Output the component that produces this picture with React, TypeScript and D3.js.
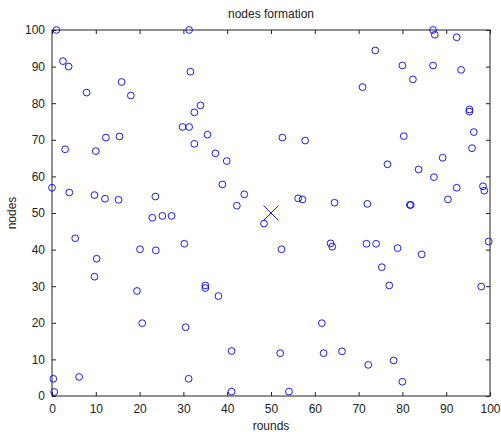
import { useEffect, useRef } from 'react';
import * as d3 from 'd3';

// node positions
const roundsX = [
  1, 31.3, 87, 87.4, 92.4, 2.5, 3.8, 73.8, 31.6, 80, 87, 93.4, 15.9, 82.4, 70.9, 7.9, 18, 33.9, 32.5, 95.3,
  95.3, 29.8, 31.3, 96.3, 35.5, 12.3, 15.4, 52.6, 80.3, 57.8, 32.5, 3, 10, 95.9, 37.3, 89.2, 39.9, 76.6, 83.7, 87.2,
  38.9, 0, 92.4, 98.4, 98.7, 3.95, 9.7, 43.9, 23.6, 12.1, 15.2, 56.2, 57.2, 90.4, 64.5, 72, 81.7, 81.9, 42.2, 22.9,
  25.2, 27.3, 48.4, 5.3, 30.2, 63.6, 64, 71.8, 74, 99.7, 52.4, 20.1, 23.7, 78.9, 84.4, 10.2, 75.3, 9.7, 35, 35,
  77, 98, 19.4, 38, 20.6, 61.6, 30.5, 41, 52.1, 62, 66.2, 78, 72.2, 6.2, 0.3, 31.2, 80, 0.5, 41, 54.1,
];
const nodesY = [
  100, 100, 100, 98.7, 98, 91.5, 90, 94.4, 88.6, 90.3, 90.3, 89.1, 85.8, 86.5, 84.4, 82.9, 82.1, 79.4, 77.5, 78.3,
  77.7, 73.5, 73.5, 72.1, 71.4, 70.6, 70.9, 70.6, 71, 69.8, 68.9, 67.4, 66.9, 67.7, 66.3, 65.1, 64.2, 63.3, 61.9, 59.8,
  57.8, 56.9, 56.9, 57.3, 56.1, 55.6, 54.9, 55.1, 54.5, 53.9, 53.6, 54, 53.7, 53.7, 52.8, 52.5, 52.2, 52.2, 52, 48.7,
  49.2, 49.2, 47.1, 43.1, 41.6, 41.7, 40.8, 41.6, 41.6, 42.2, 40.1, 40.1, 39.8, 40.4, 38.7, 37.5, 35.2, 32.6, 30.2, 29.5,
  30.2, 29.9, 28.7, 27.3, 19.9, 19.9, 18.8, 12.3, 11.7, 11.7, 12.2, 9.7, 8.5, 5.2, 4.7, 4.7, 3.9, 1.1, 1.2, 1.2,
];
const centre = [50, 50];
const xTicks = [0, 10, 20, 30, 40, 50, 60, 70, 80, 90, 100];
const yTicks = [0, 10, 20, 30, 40, 50, 60, 70, 80, 90, 100];

export default function App() {
  const svgRef = useRef<SVGSVGElement>(null);

  useEffect(() => {
    const width = 501;
    const height = 432;
    const margin = { top: 30, right: 11, bottom: 36, left: 52 };
    const innerWidth = width - margin.left - margin.right;
    const innerHeight = height - margin.top - margin.bottom;
    const font = 'Arial, "Liberation Sans", sans-serif';
    const ink = '#222';
    const blue = '#0000ff';

    const root = d3.select(svgRef.current);
    root.selectAll('*').remove();
    root.attr('width', width).attr('height', height);

    root.append('rect').attr('width', width).attr('height', height).attr('fill', '#fff');

    const svg = root.append('g').attr('transform', `translate(${margin.left},${margin.top})`);

    const x = d3.scaleLinear().domain([0, 100]).range([0, innerWidth]);
    const y = d3.scaleLinear().domain([0, 100]).range([innerHeight, 0]);

    // eixos com ticks para dentro, como no matlab
    const styleAxis = (g: any) => {
      g.select('.domain').remove();
      g.selectAll('line').attr('stroke', ink);
      g.selectAll('text').attr('fill', ink).attr('font-family', font).attr('font-size', 12);
    };

    svg.append('g')
      .attr('transform', `translate(0,${innerHeight})`)
      .call(d3.axisBottom(x).tickValues(xTicks).tickSize(-4).tickPadding(8))
      .call(styleAxis);

    svg.append('g')
      .call(d3.axisTop(x).tickValues(xTicks).tickSize(-4).tickFormat(() => ''))
      .call(styleAxis);

    svg.append('g')
      .call(d3.axisLeft(y).tickValues(yTicks).tickSize(-4).tickPadding(7))
      .call(styleAxis);

    svg.append('g')
      .attr('transform', `translate(${innerWidth},0)`)
      .call(d3.axisRight(y).tickValues(yTicks).tickSize(-4).tickFormat(() => ''))
      .call(styleAxis);

    // caixa
    svg.append('rect')
      .attr('width', innerWidth)
      .attr('height', innerHeight)
      .attr('fill', 'none')
      .attr('stroke', ink)
      .attr('stroke-width', 1);

    // pontos
    svg.selectAll('circle.node')
      .data(roundsX.map((r, i) => [r, nodesY[i]]))
      .enter()
      .append('circle')
      .attr('class', 'node')
      .attr('cx', d => x(d[0]))
      .attr('cy', d => y(d[1]))
      .attr('r', 3.4)
      .attr('fill', 'none')
      .attr('stroke', blue)
      .attr('stroke-width', 0.9);

    // centro
    const cx = x(centre[0]);
    const cy = y(centre[1]);
    const s = 7.5;
    svg.append('path')
      .attr('d', `M${cx - s},${cy - s}L${cx + s},${cy + s}M${cx - s},${cy + s}L${cx + s},${cy - s}`)
      .attr('stroke', blue)
      .attr('stroke-width', 0.9)
      .attr('fill', 'none');

    // titulos
    root.append('text')
      .attr('x', margin.left + innerWidth / 2)
      .attr('y', 18)
      .attr('text-anchor', 'middle')
      .attr('font-family', font)
      .attr('font-size', 12)
      .attr('fill', ink)
      .text('nodes formation');

    root.append('text')
      .attr('x', margin.left + innerWidth / 2)
      .attr('y', 430)
      .attr('text-anchor', 'middle')
      .attr('font-family', font)
      .attr('font-size', 12)
      .attr('fill', ink)
      .text('rounds');

    root.append('text')
      .attr('transform', `translate(16,${margin.top + innerHeight / 2}) rotate(-90)`)
      .attr('text-anchor', 'middle')
      .attr('font-family', font)
      .attr('font-size', 12)
      .attr('fill', ink)
      .text('nodes');
  }, []);

  return <svg ref={svgRef} style={{ position: 'absolute', left: 0, top: 0, display: 'block' }}></svg>;
}
